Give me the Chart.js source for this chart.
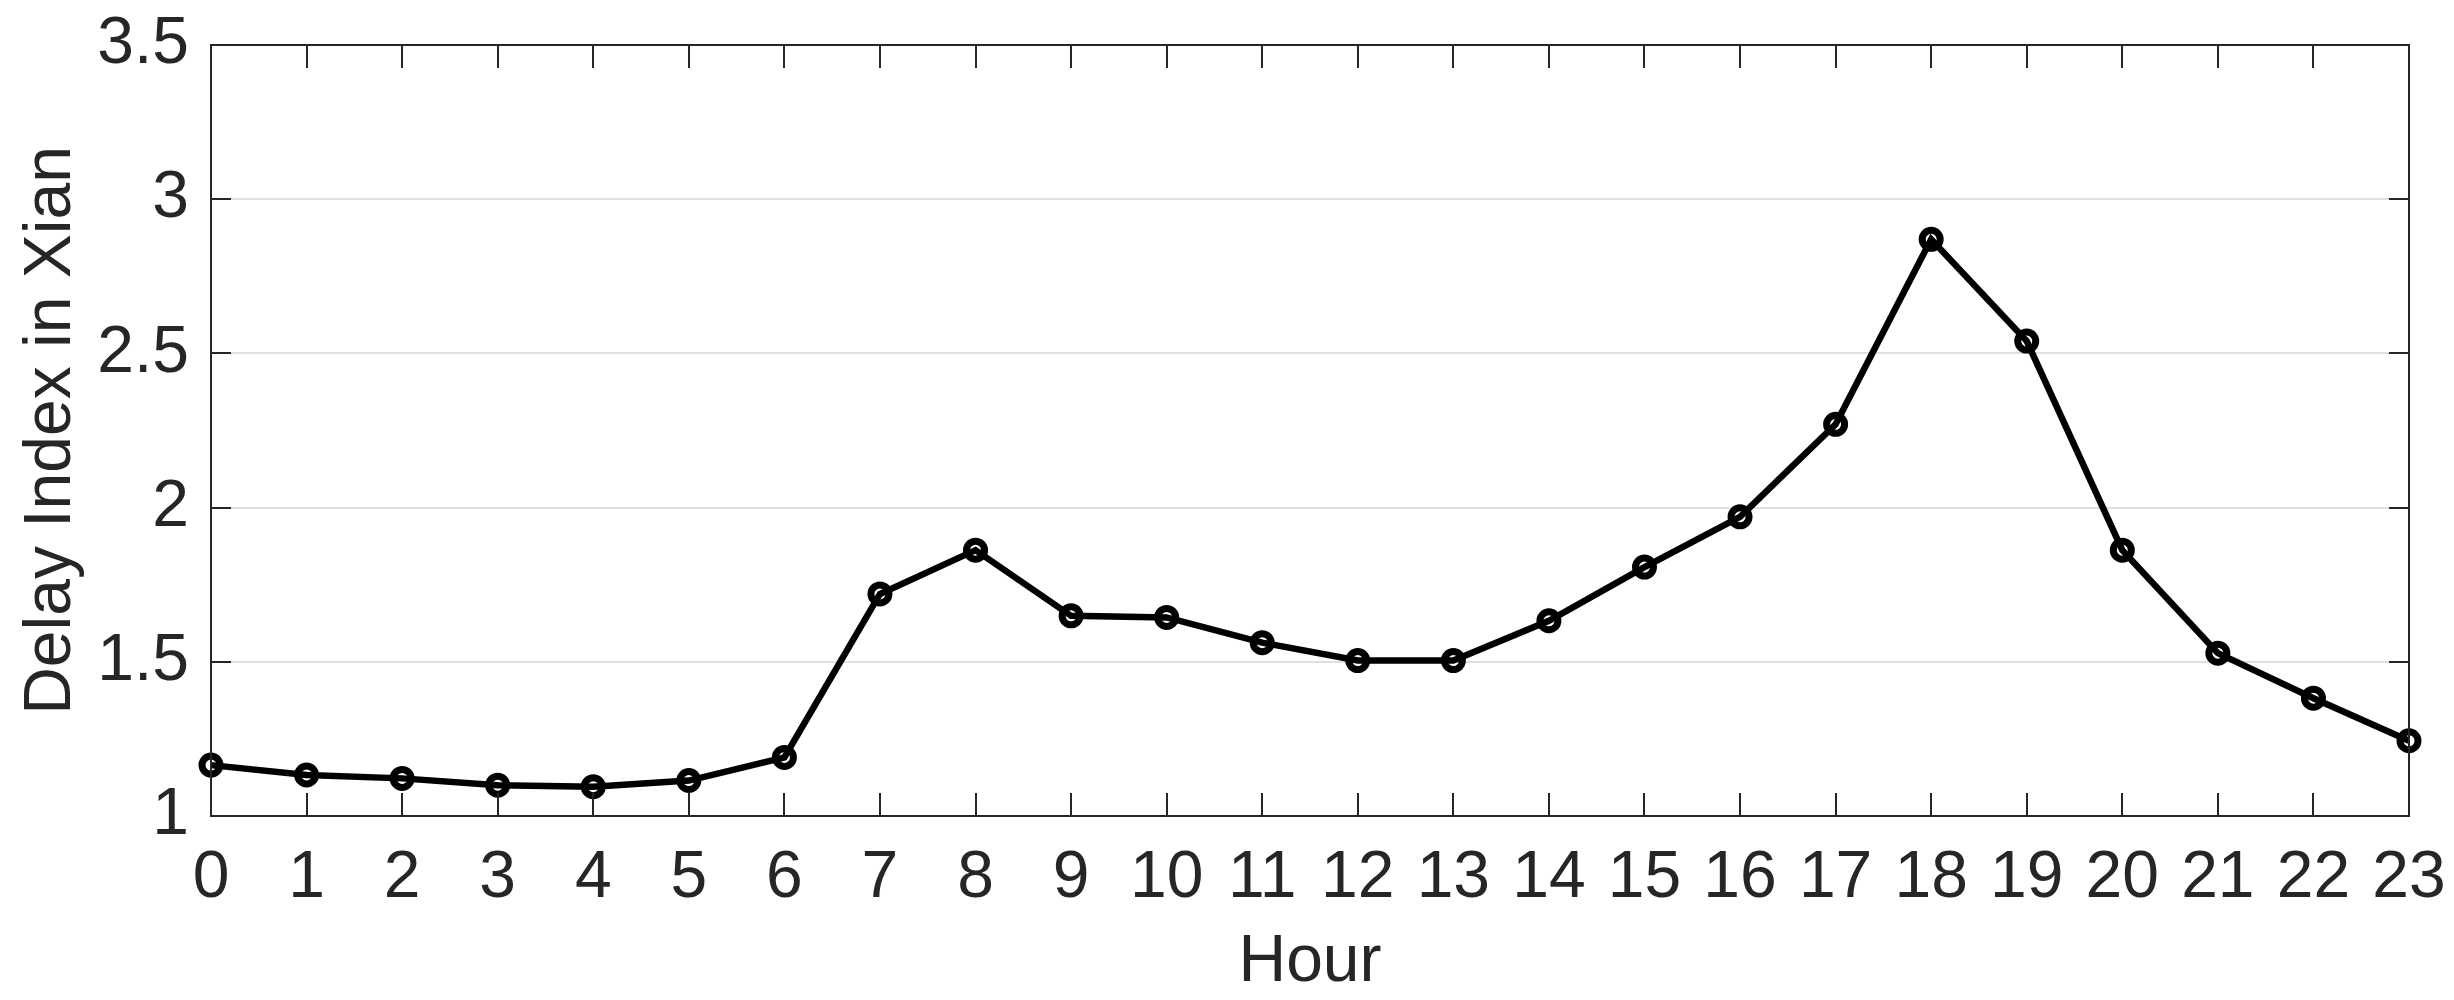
<!DOCTYPE html>
<html>
<head>
<meta charset="utf-8">
<script src="https://cdn.jsdelivr.net/npm/chart.js@4"></script>
<style>
  html, body { margin: 0; padding: 0; background: #fff; }
  #wrap { width: 2454px; height: 1000px; }
</style>
</head>
<body>
<div id="wrap"><canvas id="myChart" width="2454" height="1000"></canvas></div>
<script>
const hours = ['0', '1', '2', '3', '4', '5', '6', '7', '8', '9', '10', '11',
               '12', '13', '14', '15', '16', '17', '18', '19', '20', '21', '22', '23'];
const delayIndex = [1.165, 1.133, 1.122, 1.10, 1.095, 1.115, 1.19, 1.72, 1.862, 1.649, 1.644, 1.562,
                    1.504, 1.504, 1.633, 1.807, 1.97, 2.27, 2.87, 2.54, 1.862, 1.528, 1.382, 1.244];
const yTickValues = [1, 1.5, 2, 2.5, 3, 3.5];
const yTickLabels = ['1', '1.5', '2', '2.5', '3', '3.5'];

const axisColor = '#262626';
const fontFamily = '"Liberation Sans", Arial, Helvetica, sans-serif';

// matlab style box with inward ticks on all four sides
const boxPlugin = {
    id: 'boxTicks',
    afterDatasetsDraw(chart) {
        const { ctx, chartArea: a, scales } = chart;
        ctx.save();
        ctx.strokeStyle = axisColor;
        ctx.lineWidth = 2;
        ctx.beginPath();
        scales.x.ticks.forEach((t, i) => {
            const px = Math.round(scales.x.getPixelForTick(i));
            ctx.moveTo(px, a.bottom); ctx.lineTo(px, a.bottom - 23);
            ctx.moveTo(px, a.top); ctx.lineTo(px, a.top + 23);
        });
        scales.y.ticks.forEach((t, i) => {
            const py = Math.round(scales.y.getPixelForTick(i));
            ctx.moveTo(a.left, py); ctx.lineTo(a.left + 20, py);
            ctx.moveTo(a.right, py); ctx.lineTo(a.right - 20, py);
        });
        ctx.stroke();
        ctx.strokeRect(a.left, a.top, a.right - a.left, a.bottom - a.top);
        ctx.restore();
    }
};

const ctx = document.getElementById('myChart').getContext('2d');
const myChart = new Chart(ctx, {
    type: 'line',
    data: {
        labels: hours,
        datasets: [{
            label: 'Delay Index',
            data: delayIndex,
            fill: false,
            borderColor: '#000',
            borderWidth: 6.5,
            tension: 0,
            pointRadius: 9,
            pointBorderWidth: 7,
            pointBorderColor: '#000',
            pointBackgroundColor: 'rgba(0,0,0,0)',
            clip: false
        }]
    },
    options: {
        responsive: false,
        animation: false,
        devicePixelRatio: 1,
        layout: { padding: { top: 45, right: 45, left: 0, bottom: 0 } },
        plugins: {
            legend: { display: false },
            tooltip: { enabled: false }
        },
        scales: {
            x: {
                type: 'category',
                offset: false,
                grid: { display: false, drawTicks: false },
                border: { display: false },
                ticks: {
                    color: axisColor,
                    font: { family: fontFamily, size: 66, lineHeight: 1 },
                    padding: 30,
                    maxRotation: 0,
                    autoSkip: false
                },
                title: {
                    display: true,
                    text: 'Hour',
                    color: axisColor,
                    font: { family: fontFamily, size: 66, lineHeight: 1 },
                    padding: { top: 0, bottom: 4 }
                },
                afterFit(scale) {
                    scale.height = 184;
                    scale.paddingLeft = 0;
                    scale.paddingRight = 0;
                }
            },
            y: {
                min: 1,
                max: 3.5,
                afterBuildTicks(scale) {
                    scale.ticks = yTickValues.map(v => ({ value: v }));
                },
                grid: { color: '#dfdfdf', lineWidth: 2, drawTicks: false },
                border: { display: false },
                ticks: {
                    color: axisColor,
                    font: { family: fontFamily, size: 66, lineHeight: 1 },
                    padding: 22,
                    callback: function (value) {
                        const i = yTickValues.indexOf(value);
                        return i >= 0 ? yTickLabels[i] : '';
                    }
                },
                title: {
                    display: true,
                    text: 'Delay Index in Xian',
                    color: axisColor,
                    font: { family: fontFamily, size: 66, lineHeight: 1 },
                    padding: { top: 19, bottom: 0 }
                },
                afterFit(scale) {
                    scale.width = 211;
                    scale.paddingTop = 0;
                    scale.paddingBottom = 0;
                }
            }
        }
    },
    plugins: [boxPlugin]
});
</script>
</body>
</html>
